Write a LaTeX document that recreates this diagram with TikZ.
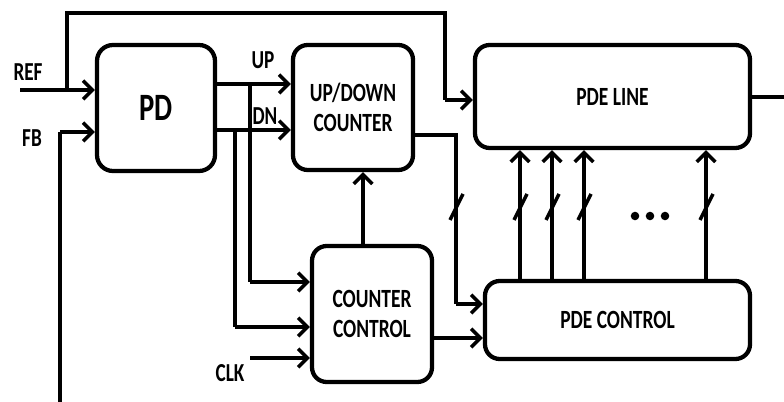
\documentclass[tikz,border=0pt]{standalone}
\usepackage{fontspec}
\usepackage{graphicx}
\setmainfont{Carlito}
\usetikzlibrary{arrows.meta}
\newcommand{\tx}[1]{\scalebox{1}[1.35]{\bfseries #1}}
\tikzset{
  blk/.style={draw, line width=3.2pt, rounded corners=11pt, inner sep=0pt, align=center, font=\fontsize{14.6}{20}\selectfont},
  wire/.style={line width=3pt},
  arr/.style={line width=3pt, -{Straight Barb[length=7pt,width=14pt,line width=2.6pt]}},
  lbl/.style={inner sep=0pt, font=\fontsize{14.4}{17}\selectfont},
  slashmark/.style={line width=2.6pt}
}
\begin{document}
\begin{tikzpicture}[x=0.75pt,y=-0.75pt]
\useasboundingbox (0,0) rectangle (784,402);
% blocks
\node[blk, minimum width=118*0.75pt, minimum height=126*0.75pt, rounded corners=12pt] (PD) at (156,108) {\fontsize{21.5}{26}\selectfont\tx{PD}};
\node[blk, minimum width=120*0.75pt, minimum height=125*0.75pt] (UDC) at (353,107.5) {\tx{UP/DOWN}\\[3pt]\tx{COUNTER}};
\node[blk, minimum width=120*0.75pt, minimum height=136*0.75pt] (CC) at (372,314) {\tx{COUNTER}\\[3pt]\tx{CONTROL}};
\node[blk, minimum width=275*0.75pt, minimum height=103*0.75pt] (PDEL) at (612.5,96.5) {\tx{PDE LINE}};
\node[blk, minimum width=265*0.75pt, minimum height=78*0.75pt] (PDEC) at (617.5,320) {\tx{PDE CONTROL}};
% labels
\node[lbl] (lref) at (28,72) {\tx{REF}};
\node[lbl] (lfb) at (32,138) {\tx{FB}};
\node[lbl] (lup) at (263,60) {\tx{UP}};
\node[lbl] (ldn) at (265,116) {\tx{DN}};
\node[lbl] (lclk) at (230,373) {\tx{CLK}};
% coordinates
\coordinate (refin) at (20,90);
\coordinate (reftap) at (67,90);
\coordinate (reftop) at (67,13);
\coordinate (refright) at (445,13);
\coordinate (refdown) at (445,100);
\coordinate (fbbot) at (60,402);
\coordinate (fbcorner) at (60,132);
\coordinate (yup) at (0,84);
\coordinate (ydn) at (0,130);
\coordinate (upv) at (250,84);
\coordinate (upvb) at (250,282);
\coordinate (dnv) at (235,130);
\coordinate (dnvb) at (235,327);
\coordinate (clkin) at (250,358);
\coordinate (ccout) at (0,338);
\coordinate (udcout) at (413,135);
\coordinate (udcr) at (456,135);
\coordinate (udcd) at (456,304);
\coordinate (outend) at (784,97);
% connectors
\draw[arr] (refin) -- (refin -| PD.west);
\draw[wire] (reftap) -- (reftop) -- (refright) -- (refdown);
\draw[arr] (refdown) -- (refdown -| PDEL.west);
\draw[wire] (fbbot) -- (fbcorner);
\draw[arr] (fbcorner) -- (fbcorner -| PD.west);
\draw[arr] (PD.east |- yup) -- (UDC.west |- yup);
\draw[arr] (PD.east |- ydn) -- (UDC.west |- ydn);
\draw[wire] (upv) -- (upvb);
\draw[arr] (upvb) -- (upvb -| CC.west);
\draw[wire] (dnv) -- (dnvb);
\draw[arr] (dnvb) -- (dnvb -| CC.west);
\draw[arr] (clkin) -- (clkin -| CC.west);
\draw[arr] (CC.north -| 363,0) -- (UDC.south -| 363,0);
\draw[arr] (CC.east |- ccout) -- (PDEC.west |- ccout);
\draw[wire] (UDC.east |- udcout) -- (udcr) -- (udcd);
\draw[arr] (udcd) -- (udcd -| PDEC.west);
\foreach \xx in {520,552,584,706}{
  \draw[arr] (PDEC.north -| \xx,0) -- (PDEL.south -| \xx,0);
  \draw[slashmark] (\xx-6,220) -- (\xx+7,194);
}
\draw[slashmark] (450,220) -- (463,194);
\draw[wire] (PDEL.east |- outend) -- (outend);
% dots
\foreach \xx in {635,650,665}{ \fill (\xx,216) circle (3.2pt); }
\end{tikzpicture}
\end{document}
